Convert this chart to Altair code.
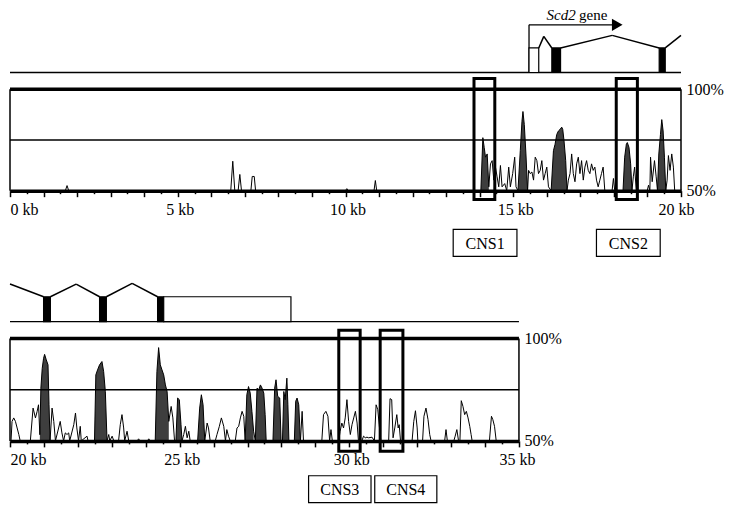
import altair as alt
import pandas as pd

# ---------------- data ----------------
# top panel: conservation curve (kb, % identity)
top_kb = [0.0, 1.65, 1.70, 1.75, 6.58, 6.64, 6.70, 6.80, 6.85, 6.90, 7.18, 7.22, 7.28, 7.32, 10.00, 10.04, 10.08, 10.85, 10.89, 10.93,
          14.035, 14.094, 14.134, 14.173, 14.223, 14.272, 14.321, 14.371, 14.420, 14.470, 14.519, 14.568, 14.618, 14.667, 14.746, 14.806, 14.865, 14.914, 14.983, 15.043, 15.082,
          15.141, 15.210, 15.260, 15.289, 15.329, 15.378, 15.428,
          15.457, 15.507, 15.556, 15.605, 15.655, 15.704, 15.753, 15.803, 15.852, 15.902, 15.951, 16.000, 16.050,
          16.129, 16.198, 16.247, 16.297, 16.346, 16.396, 16.445, 16.475, 16.514, 16.563, 16.603,
          16.642, 16.692, 16.741, 16.790, 16.840, 16.889, 16.939, 16.988, 17.037, 17.087, 17.136, 17.186, 17.235, 17.284, 17.334, 17.383, 17.432, 17.482, 17.531, 17.581, 17.630, 17.679, 17.729,
          17.946, 17.986, 18.025,
          18.272, 18.321, 18.371, 18.400, 18.450, 18.499, 18.539, 18.578, 18.618, 18.667,
          18.993, 19.032, 19.072, 19.092, 19.141, 19.210, 19.260,
          19.299, 19.339, 19.388, 19.427, 19.467, 19.506, 19.546,
          19.586, 19.625, 19.674, 19.724, 19.773, 19.812, 20.0]
top_pct = [50, 50, 52.5, 50, 50, 64.5, 50, 50, 58, 50, 50, 57, 57, 50, 50, 51, 50, 50, 55, 50,
           50, 76.1, 71.3, 66.5, 68.1, 51.9, 63.2, 64.8, 55.2, 61.6, 56.8, 51.9, 62.4, 51.9, 53.5, 50, 61.6, 51.9, 58.4, 66.5, 51.9,
           50, 69.7, 84.2, 89.0, 82.6, 68.1, 50,
           60, 58.4, 59.2, 55.2, 66.5, 64.8, 58.4, 60.0, 64.8, 55.2, 58.4, 61.6, 51.9,
           50, 69.7, 72.9, 77.7, 79.4, 80.2, 81.3, 80.2, 74.5, 64.8, 50,
           55.2, 58.4, 68.1, 58.4, 54.4, 63.2, 66.5, 58.4, 64.8, 55.2, 61.6, 64.8, 60.0, 58.4, 63.2, 60.0, 61.6, 55.2, 51.9, 55.2, 58.4, 61.6, 50,
           50, 56.0, 50,
           50, 66.5, 72.9, 73.7, 71.3, 63.2, 50, 56.8, 61.6, 50,
           50, 52.7, 50, 66.5, 54.4, 64.8, 56.8,
           50, 68.1, 77.7, 85.0, 79.4, 66.5, 50,
           55.2, 67.3, 60.0, 68.1, 61.6, 50, 50]
top_fill_start = [14.035, 15.141, 16.129, 18.272, 19.299]
top_fill_end = [14.272, 15.428, 16.603, 18.539, 19.546]

# bottom panel
bot_kb = [20.0, 20.03, 20.06, 20.11, 20.16, 20.21, 20.26, 20.30,
          20.60, 20.68, 20.75, 20.80, 20.84, 20.88, 20.91, 20.95, 20.99, 21.02, 21.07, 21.12, 21.15, 21.18,
          21.24, 21.29, 21.34, 21.48, 21.53, 21.58, 21.63, 21.68, 21.73, 21.76, 21.88, 21.93, 21.97, 22.02, 22.07, 22.10, 22.27, 22.30,
          22.49, 22.53, 22.58, 22.64, 22.71, 22.76, 22.81, 22.86,
          22.91, 22.94, 23.01, 23.06, 23.20, 23.25, 23.30, 23.35, 23.38, 23.45, 23.50, 23.75, 23.79, 23.83, 24.05, 24.09, 24.13,
          24.28, 24.33, 24.38, 24.43, 24.48, 24.53, 24.58, 24.63, 24.68,
          24.75, 24.80, 24.85, 24.89, 24.94, 24.99, 25.04, 25.07, 25.12, 25.17, 25.22, 25.27, 25.31,
          25.53, 25.59, 25.64, 25.69, 25.74, 25.81, 25.85, 25.90,
          26.05, 26.10, 26.17, 26.23, 26.30, 26.35, 26.39, 26.44, 26.49, 26.64, 26.69, 26.74, 26.79, 26.84, 26.89,
          26.93, 26.98, 27.03, 27.08, 27.13, 27.18, 27.23, 27.28, 27.33, 27.38, 27.43, 27.48, 27.52, 27.55,
          27.75, 27.80, 27.84, 27.89, 27.95, 27.99, 28.03, 28.07, 28.11, 28.16, 28.19, 28.22, 28.38, 28.42, 28.46, 28.51, 28.56, 28.61, 28.65,
          29.19, 29.24, 29.31, 29.37, 29.42, 29.46, 29.50, 29.69, 29.73, 29.78, 29.83, 29.88, 29.93, 29.98, 30.03, 30.08, 30.13, 30.18, 30.23, 30.27,
          30.37, 30.42, 30.47, 30.52, 30.57, 30.67, 30.74, 30.79, 30.84, 30.88, 30.93,
          31.16, 31.20, 31.25, 31.29, 31.34, 31.40, 31.44, 31.47, 31.51,
          31.85, 31.90, 31.95, 32.00, 32.02, 32.16, 32.20, 32.26, 32.32, 32.37, 32.41, 32.81, 32.85, 32.89, 33.08, 33.12, 33.17, 33.22,
          33.26, 33.30, 33.35, 33.40, 33.45, 33.50, 33.55, 33.59, 33.62, 34.13, 34.19, 34.23, 34.28, 34.33, 35.0]
bot_pct = [50, 50, 59.5, 61.2, 59.5, 56.3, 53.1, 50,
           50, 66.0, 61.2, 64.4, 67.6, 53.0, 75.7, 85.4, 90.3, 92.2, 89.5, 87.1, 67.6, 50,
           66.0, 59.5, 50, 59.5, 53.9, 50, 53.9, 53.1, 53.9, 50, 57.9, 63.6, 56.3, 50, 57.1, 50, 52.3, 50,
           50, 82.2, 84.6, 87.1, 88.7, 83.8, 74.1, 50,
           53.1, 50, 52.3, 50, 50, 57.9, 62.8, 56.3, 50, 54.7, 50, 50, 51, 50, 50, 51, 50,
           50, 83.8, 95.5, 87.1, 84.6, 82.2, 77.3, 74.1, 59.5,
           66.8, 61.2, 50, 50, 70.9, 70.1, 57.9, 50, 53.1, 57.1, 51.5, 54.7, 50,
           50, 66.0, 72.5, 67.6, 50, 58.7, 56.3, 50,
           50, 53.1, 57.1, 61.2, 57.1, 50, 55.5, 52.3, 50, 50, 56.3, 57.1, 61.2, 64.4, 62.0,
           50, 72.5, 76.5, 73.3, 64.4, 54.7, 50, 75.7, 74.9, 77.3, 75.7, 73.3, 62.8, 50,
           50, 75.7, 79.8, 71.7, 70.9, 50, 50, 74.1, 70.1, 80.6, 67.6, 50, 50, 69.3, 70.9, 67.6, 50, 64.4, 50,
           50, 62.8, 64.4, 62.0, 50, 55.5, 50, 50, 54.7, 58.7, 56.3, 61.2, 70.1, 59.5, 53.1, 57.9, 61.2, 64.4, 58.7, 50,
           50, 52.3, 51.5, 51.8, 51.5, 51.8, 50, 67.6, 65.2, 57.9, 50,
           50, 70.6, 70.1, 51.5, 56.3, 62.8, 56.3, 57.9, 50,
           50, 59.5, 64.7, 56.3, 50, 50, 62.0, 66.0, 60.4, 53.1, 50, 50, 55.5, 50, 50, 52.3, 55.5, 50,
           50, 69.6, 66.8, 62.8, 64.4, 61.2, 57.1, 53.1, 50, 50, 62.0, 60.4, 57.1, 50, 50]
bot_fill_start = [20.88, 22.49, 24.28, 24.89, 25.53, 26.93, 27.23, 27.75, 28.03, 28.38]
bot_fill_end = [21.18, 22.86, 24.68, 25.07, 25.74, 27.18, 27.55, 27.99, 28.22, 28.56]

# gene structure (kb; y in the same % units)
GENE_Y = 108.2
EXON_TOP = 120.3
top_exon_start = [15.47, 16.15, 19.35]
top_exon_end = [15.76, 16.41, 19.53]
top_exon_fill = ["white", "black", "black"]
top_intron = [(15.76, EXON_TOP, 15.91, 126.0), (15.91, 126.0, 16.15, EXON_TOP),
              (16.41, EXON_TOP, 17.95, 126.5), (17.95, 126.5, 19.35, EXON_TOP),
              (19.53, EXON_TOP, 20.0, 126.5)]
bot_exon_start = [20.99, 22.64, 24.35, 24.53]
bot_exon_end = [21.19, 22.84, 24.53, 28.28]
bot_exon_fill = ["black", "black", "black", "white"]
bot_intron = [(20.0, 126.5, 20.99, EXON_TOP), (21.19, EXON_TOP, 21.95, 126.5),
              (21.95, 126.5, 22.64, EXON_TOP), (22.84, EXON_TOP, 23.6, 126.8),
              (23.6, 126.8, 24.35, EXON_TOP)]
arrow_x0, arrow_x1, arrow_y = 15.47, 17.98, 131.7
arrow_head_x = 18.10
gene_text_x = [16.86, 16.96]
gene_text_y = 136.4
gene_text = ["Scd2", "gene"]

# conserved-region boxes and their labels
top_cns = ["CNS1", "CNS2"]
top_cns_start = [13.83, 18.07]
top_cns_end = [14.45, 18.70]
top_lab_start = [13.21, 17.48]
top_lab_end = [15.11, 19.38]
bot_cns = ["CNS3", "CNS4"]
bot_cns_start = [29.69, 30.91]
bot_cns_end = [30.32, 31.58]
bot_lab_start = [28.80, 30.75]
bot_lab_end = [30.64, 32.58]

# ---------------- layout constants ----------------
FONT = "Liberation Serif"
FILL = "#3e3e3e"


def panel(x0, x1, S, ylo, yhi, ppu, kb, pct, fs, fe, ex_s, ex_e, ex_f, introns,
          cns_s, cns_e, cns_y, lab_names, lab_s, lab_e, lab_y, first_off, last_off, gene_label):
    W = (x1 - x0) * S
    H = (yhi - ylo) * ppu
    xs = alt.Scale(domain=[x0, x1], nice=False, zero=False)
    ys = alt.Scale(domain=[ylo, yhi], nice=False, zero=False)
    ticks = [x0 + 0.5 * i for i in range(int((x1 - x0) * 2) + 1)]
    xaxis = alt.Axis(
        values=ticks, title=None, grid=False, offset=-(50 - ylo) * ppu,
        labelExpr="datum.value % 5 === 0 ? datum.value + ' kb' : ''",
        labelFont=FONT, labelFontSize=16, labelColor="black", labelPadding=5,
        labelOverlap=False, labelFlush=True,
        labelOffset={"condition": [{"test": f"datum.value == {x0}", "value": first_off},
                                   {"test": f"datum.value == {x1}", "value": last_off}],
                     "value": 2},
        domainColor="black", domainWidth=3.5, tickColor="black", tickWidth=1.5,
        tickSize={"condition": {"test": "datum.value % 1 === 0", "value": 6}, "value": 3},
        zindex=1,
    )
    yaxis = alt.Axis(orient="right", values=[50, 100], title=None, grid=False,
                     domain=False, ticks=False, labelPadding=5,
                     labelExpr="datum.value + '%'", labelFont=FONT,
                     labelFontSize=16, labelColor="black")

    def X(f):
        return alt.X(f, type="quantitative", scale=xs, axis=xaxis)

    def Y(f):
        return alt.Y(f, type="quantitative", scale=ys, axis=yaxis)

    curve = pd.DataFrame({"kb": kb, "pct": pct})
    frames = []
    for i, (a, b) in enumerate(zip(fs, fe)):
        seg = curve[(curve.kb >= a - 1e-6) & (curve.kb <= b + 1e-6)].copy()
        seg["seg"] = i
        frames.append(seg)
    fill = pd.concat(frames)
    fill["base"] = 50

    area = alt.Chart(fill).mark_area(color=FILL, interpolate="linear").encode(
        x=X("kb"), y=Y("pct"), y2=alt.Y2("base"), detail="seg:N")
    line = alt.Chart(curve).mark_line(color="black", strokeWidth=1, interpolate="linear").encode(
        x=X("kb"), y=Y("pct"))

    rules = [
        (x0, 100, x1, 100, 3.5),
        (x0, 75, x1, 75, 1.5),
        (x0, 50, x0, 100, 1.5),
        (x1, 50, x1, 100, 1.5),
        (x0, GENE_Y, x1, GENE_Y, 1.3),
    ]
    rules += [(a, b, c, d, 1.5) for (a, b, c, d) in introns]
    if gene_label:
        rules += [(arrow_x0, GENE_Y, arrow_x0, arrow_y, 1.3),
                  (arrow_x0, arrow_y, arrow_x1, arrow_y, 1.3)]
    rdf = pd.DataFrame(rules, columns=["x", "y", "x2", "y2", "w"])
    rule = alt.Chart(rdf).mark_rule(color="black").encode(
        x=X("x"), y=Y("y"), x2=alt.X2("x2"), y2=alt.Y2("y2"),
        strokeWidth=alt.StrokeWidth("w:Q", scale=None, legend=None))

    edf = pd.DataFrame({"x": ex_s, "x2": ex_e, "f": ex_f})
    edf["y"] = GENE_Y
    edf["y2"] = EXON_TOP
    exons = alt.Chart(edf).mark_rect(stroke="black", strokeWidth=1.2).encode(
        x=X("x"), x2=alt.X2("x2"), y=Y("y"), y2=alt.Y2("y2"),
        fill=alt.Fill("f:N", scale=None, legend=None))

    cdf = pd.DataFrame({"x": cns_s, "x2": cns_e})
    cdf["y"] = cns_y[0]
    cdf["y2"] = cns_y[1]
    cns = alt.Chart(cdf).mark_rect(fillOpacity=0, stroke="black", strokeWidth=3).encode(
        x=X("x"), x2=alt.X2("x2"), y=Y("y"), y2=alt.Y2("y2"))

    ldf = pd.DataFrame({"name": lab_names, "x": lab_s, "x2": lab_e})
    ldf["y"] = lab_y[0]
    ldf["y2"] = lab_y[1]
    ldf["xm"] = (ldf.x + ldf.x2) / 2
    ldf["ym"] = (ldf.y + ldf.y2) / 2
    lbox = alt.Chart(ldf).mark_rect(fill="white", stroke="black", strokeWidth=1.2).encode(
        x=X("x"), x2=alt.X2("x2"), y=Y("y"), y2=alt.Y2("y2"))
    ltxt = alt.Chart(ldf).mark_text(font=FONT, fontSize=16, color="black",
                                    align="center", baseline="middle", dy=1).encode(
        x=X("xm"), y=Y("ym"), text="name:N")

    layers = [area, line, rule, exons, cns, lbox, ltxt]
    if gene_label:
        head = alt.Chart(pd.DataFrame({"x": [arrow_head_x], "y": [arrow_y]})).mark_point(
            shape="triangle-right", filled=True, color="black", opacity=1, size=150).encode(
            x=X("x"), y=Y("y"))
        gdf = pd.DataFrame({"x": gene_text_x, "y": [gene_text_y] * 2, "t": gene_text})
        t1 = alt.Chart(gdf.iloc[[0]]).mark_text(font=FONT, fontSize=15, fontStyle="italic",
                                               align="right", baseline="middle", color="black").encode(
            x=X("x"), y=Y("y"), text="t:N")
        t2 = alt.Chart(gdf.iloc[[1]]).mark_text(font=FONT, fontSize=15,
                                               align="left", baseline="middle", color="black").encode(
            x=X("x"), y=Y("y"), text="t:N")
        layers += [head, t1, t2]
    return alt.layer(*layers).properties(width=W, height=H)


top = panel(0, 20, 33.55, 17.0, 139, 2.03, top_kb, top_pct, top_fill_start, top_fill_end,
            top_exon_start, top_exon_end, top_exon_fill, top_intron,
            top_cns_start, top_cns_end, (45.6, 105.2), top_cns, top_lab_start, top_lab_end,
            (17.6, 30.9), 0, 13, True)
bottom = panel(20, 35, 33.93, 19.6, 127.5, 2.05, bot_kb, bot_pct, bot_fill_start, bot_fill_end,
               bot_exon_start, bot_exon_end, bot_exon_fill, bot_intron,
               bot_cns_start, bot_cns_end, (45.0, 104.0), bot_cns, bot_lab_start, bot_lab_end,
               (19.9, 33.0), 0, 16, False)

chart = alt.vconcat(top, bottom, spacing=24).properties(padding=0).configure_view(strokeWidth=0)

chart.save("out.html", embed_options={"renderer": "svg", "actions": False})
